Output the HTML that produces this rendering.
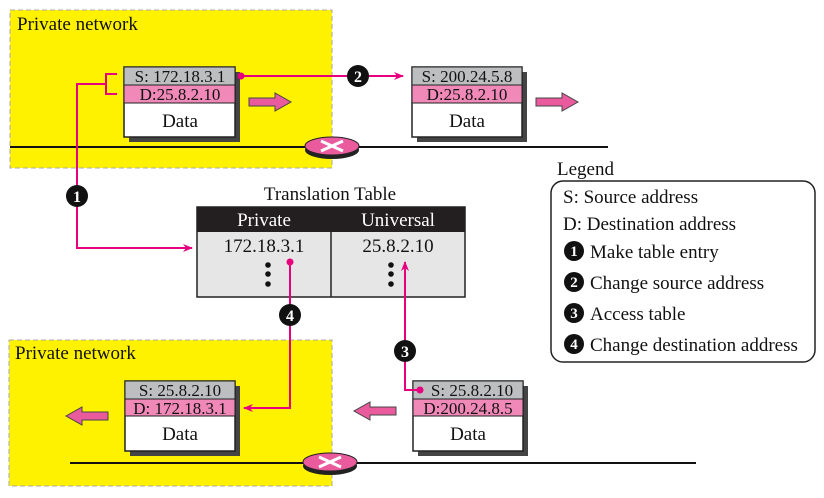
<!DOCTYPE html>
<html><head><style>body{margin:0;background:#fff}svg{display:block}text{font-family:"Liberation Serif",serif;fill:#111}</style></head><body>
<svg width="824" height="498" viewBox="0 0 824 498">
<defs>
<marker id="ah" markerWidth="10" markerHeight="8" refX="9" refY="4" orient="auto" markerUnits="userSpaceOnUse"><path d="M0,0 L10,4 L0,8 L3,4 Z" fill="#e6007e"/></marker>
<g id="router"><ellipse cx="0" cy="4" rx="27" ry="9" fill="#222"/><ellipse cx="0" cy="0" rx="27" ry="9" fill="#ea5b9e" stroke="#222"/><path d="M-11,-5 L11,5 M-11,5 L11,-5" stroke="#fff" stroke-width="3"/></g>
<g id="rarrow"><path d="M0,-4 L26,-4 L26,-9 L42,0 L26,9 L26,4 L0,4 Z" fill="#ea5b9e" stroke="#444"/></g>
</defs>
<rect x="10" y="10" width="322" height="158" fill="#fff200" stroke="#aaa" stroke-dasharray="5,3"/>
<rect x="9" y="340" width="323" height="146" fill="#fff200" stroke="#aaa" stroke-dasharray="5,3"/>
<text x="17" y="30" font-size="19">Private network</text>
<text x="15" y="359" font-size="19">Private network</text>
<line x1="10" y1="147" x2="608" y2="147" stroke="#111" stroke-width="2"/>
<use href="#router" x="332" y="146"/>
<line x1="70" y1="463" x2="696" y2="463" stroke="#111" stroke-width="2"/>
<use href="#router" x="330" y="462"/>
<g>
<rect x="129" y="72" width="111" height="70" fill="#444"/>
<rect x="124" y="67" width="111" height="70" fill="#fff" stroke="#222" stroke-width="1.5"/>
<rect x="124" y="67" width="111" height="18" fill="#bcbec0" stroke="#222"/>
<rect x="124" y="85" width="111" height="18" fill="#f088b8" stroke="#222"/>
<text x="180" y="82" font-size="17" text-anchor="middle">S: 172.18.3.1</text>
<text x="180" y="100" font-size="17" text-anchor="middle">D:25.8.2.10</text>
<text x="180" y="127" font-size="19" text-anchor="middle">Data</text>
</g>
<g>
<rect x="417" y="72" width="110" height="70" fill="#444"/>
<rect x="412" y="67" width="110" height="70" fill="#fff" stroke="#222" stroke-width="1.5"/>
<rect x="412" y="67" width="110" height="18" fill="#bcbec0" stroke="#222"/>
<rect x="412" y="85" width="110" height="18" fill="#f088b8" stroke="#222"/>
<text x="467" y="82" font-size="17" text-anchor="middle">S: 200.24.5.8</text>
<text x="467" y="100" font-size="17" text-anchor="middle">D:25.8.2.10</text>
<text x="467" y="127" font-size="19" text-anchor="middle">Data</text>
</g>
<g>
<rect x="130" y="386" width="110" height="70" fill="#444"/>
<rect x="125" y="381" width="110" height="70" fill="#fff" stroke="#222" stroke-width="1.5"/>
<rect x="125" y="381" width="110" height="18" fill="#bcbec0" stroke="#222"/>
<rect x="125" y="399" width="110" height="17" fill="#f088b8" stroke="#222"/>
<text x="180" y="396" font-size="17" text-anchor="middle">S: 25.8.2.10</text>
<text x="180" y="414" font-size="17" text-anchor="middle">D: 172.18.3.1</text>
<text x="180" y="440" font-size="19" text-anchor="middle">Data</text>
</g>
<g>
<rect x="418" y="386" width="110" height="70" fill="#444"/>
<rect x="413" y="381" width="110" height="70" fill="#fff" stroke="#222" stroke-width="1.5"/>
<rect x="413" y="381" width="110" height="18" fill="#bcbec0" stroke="#222"/>
<rect x="413" y="399" width="110" height="17" fill="#f088b8" stroke="#222"/>
<text x="472" y="396" font-size="17" text-anchor="middle">S: 25.8.2.10</text>
<text x="468" y="414" font-size="17" text-anchor="middle">D:200.24.8.5</text>
<text x="468" y="440" font-size="19" text-anchor="middle">Data</text>
</g>
<use href="#rarrow" x="249" y="102"/>
<use href="#rarrow" x="536" y="102"/>
<use href="#rarrow" transform="translate(108,416) scale(-1,1)"/>
<use href="#rarrow" transform="translate(396,411) scale(-1,1)"/>
<!-- table -->
<text x="330" y="200" font-size="19" text-anchor="middle">Translation Table</text>
<rect x="197" y="207" width="268" height="90" fill="#e6e6e6" stroke="#222" stroke-width="1.5"/>
<rect x="197" y="207" width="268" height="25" fill="#231f20"/>
<line x1="331" y1="207" x2="331" y2="297" stroke="#222" stroke-width="1.5"/>
<text x="264" y="226" font-size="19" text-anchor="middle" style="fill:#fff">Private</text>
<text x="398" y="226" font-size="19" text-anchor="middle" style="fill:#fff">Universal</text>
<text x="264" y="252" font-size="19" text-anchor="middle">172.18.3.1</text>
<text x="398" y="252" font-size="19" text-anchor="middle">25.8.2.10</text>
<g fill="#111"><circle cx="268" cy="265" r="2.8"/><circle cx="268" cy="274" r="2.8"/><circle cx="268" cy="284" r="2.8"/>
<circle cx="391" cy="265" r="2.8"/><circle cx="391" cy="274" r="2.8"/><circle cx="391" cy="284" r="2.8"/></g>
<g stroke="#e6007e" stroke-width="2" fill="none">
<path d="M117,74 L106,74 L106,94 L117,94"/>
<path d="M106,84 L77,84 L77,248 L192,248" marker-end="url(#ah)"/>
<path d="M241,76 L403,76" marker-end="url(#ah)"/>
<path d="M290,262 L290,408 L244,408" marker-end="url(#ah)"/>
<path d="M419,390 L405,390 L405,262" marker-end="url(#ah)"/>
</g>
<circle cx="241" cy="76" r="3.5" fill="#e6007e"/>
<circle cx="290" cy="262" r="3.5" fill="#e6007e"/>
<circle cx="420" cy="390" r="3.5" fill="#e6007e"/>
<g font-size="16" font-weight="bold" text-anchor="middle">
<circle cx="77" cy="196" r="11" fill="#111"/><text x="77" y="202" style="fill:#fff">1</text>
<circle cx="358" cy="76" r="11" fill="#111"/><text x="358" y="82" style="fill:#fff">2</text>
<circle cx="405" cy="351" r="11" fill="#111"/><text x="405" y="357" style="fill:#fff">3</text>
<circle cx="290" cy="315" r="11" fill="#111"/><text x="290" y="321" style="fill:#fff">4</text>
</g>
<text x="557" y="175" font-size="19">Legend</text>
<rect x="551" y="181" width="264" height="181" rx="12" fill="#fff" stroke="#222" stroke-width="1.5"/>
<g font-size="19">
<text x="563" y="203">S:  Source address</text>
<text x="563" y="230">D:  Destination address</text>
<text x="590" y="258">Make table entry</text>
<text x="590" y="289">Change source address</text>
<text x="590" y="320">Access table</text>
<text x="590" y="351">Change destination address</text>
</g>
<g font-size="15" font-weight="bold" text-anchor="middle">
<circle cx="574" cy="251" r="10" fill="#111"/><text x="574" y="256" style="fill:#fff">1</text>
<circle cx="574" cy="282" r="10" fill="#111"/><text x="574" y="287" style="fill:#fff">2</text>
<circle cx="574" cy="313" r="10" fill="#111"/><text x="574" y="318" style="fill:#fff">3</text>
<circle cx="574" cy="344" r="10" fill="#111"/><text x="574" y="349" style="fill:#fff">4</text>
</g>
</svg>
</body></html>
